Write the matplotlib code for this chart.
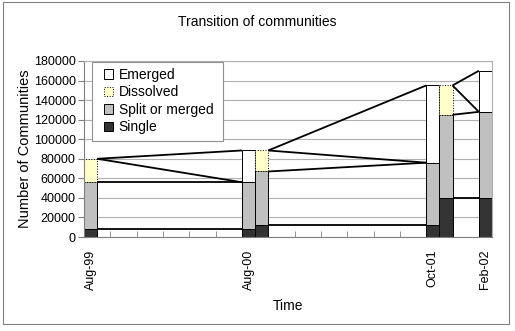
import matplotlib
matplotlib.use('Agg')
import matplotlib.pyplot as plt
from matplotlib.patches import Patch, Rectangle
import numpy as np

plt.rcParams['font.family'] = ['Liberation Sans', 'DejaVu Sans']

# one bar per month counted from Aug-99
months = [0, 12, 13, 26, 27, 30]
single = [8000, 8000, 12500, 12500, 40000, 40000]
split = [48000, 48000, 54500, 63500, 85000, 88000]
emerged = [0, 32500, 0, 79000, 0, 42000]
dissolved = [24000, 0, 21500, 0, 30000, 0]

tick_months = [0, 12, 26, 30]
tick_labels = ['Aug-99', 'Aug-00', 'Oct-01', 'Feb-02']

# bars joined by connector lines (from, to)
links = [(0, 1), (2, 3), (4, 5)]

months = np.array(months)
single = np.array(single)
split = np.array(split)
emerged = np.array(emerged)
dissolved = np.array(dissolved)

fig = plt.figure(figsize=(5.15, 3.31), dpi=100)
fig.patches.append(Rectangle((3/515, 7/331), 506/515, 322/331, transform=fig.transFigure,
                             fill=False, edgecolor='#808080', lw=0.8))
ax = fig.add_axes([84/515, 94/331, 408/515, 176/331])

ax.set_axisbelow(True)
ax.yaxis.grid(True, color='#b0b0b0', lw=0.8)

ax.bar(months, single, width=1, align='edge', color='#333333', edgecolor='black', lw=0.7, zorder=2)
ax.bar(months, split, bottom=single, width=1, align='edge', color='#c0c0c0', edgecolor='black', lw=0.7, zorder=2)
m = emerged > 0
ax.bar(months[m], emerged[m], bottom=(single + split)[m], width=1, align='edge',
       color='white', edgecolor='black', lw=0.7, zorder=2)
m = dissolved > 0
ax.bar(months[m], dissolved[m], bottom=(single + split)[m], width=1, align='edge',
       color='#ffffcc', edgecolor='black', lw=0.7, ls=':', zorder=2)

for a, b in links:
    x0, x1 = months[a] + 1, months[b]
    top_a = single[a] + split[a] + dissolved[a]
    mid_a = single[a] + split[a]
    top_b = single[b] + split[b] + emerged[b]
    mid_b = single[b] + split[b]
    for y0, y1 in [(top_a, top_b), (top_a, mid_b), (mid_a, mid_b), (single[a], single[b])]:
        ax.plot([x0, x1], [y0, y1], color='black', lw=1.3, zorder=3, solid_capstyle='butt')

ax.set_xlim(0, 31)
ax.set_ylim(0, 180000)
ax.set_yticks(np.arange(0, 180001, 20000))
ax.tick_params(axis='y', labelsize=9, length=4, color='#808080', pad=2)

ax.set_xticks(np.array(tick_months) + 0.5)
ax.set_xticklabels(tick_labels, rotation=90, fontsize=9)
ax.set_xticks(np.arange(0, 31, 2), minor=True)
ax.tick_params(axis='x', which='major', length=0, pad=9)
ax.tick_params(axis='x', which='minor', direction='in', length=4, color='#808080')

for s in ['left', 'bottom']:
    ax.spines[s].set_color('#808080')
for s in ['top', 'right']:
    ax.spines[s].set_color('#b0b0b0')

ax.set_ylabel('Number of Communities', fontsize=10.5, labelpad=1)
ax.set_xlabel('Time', fontsize=10, labelpad=7)
fig.text(0.5, 1 - 22/331, 'Transition of communities', ha='center', va='center', fontsize=10)

ax.add_patch(Rectangle((8/408, 96/176), 131/408, 79/176, transform=ax.transAxes,
                       facecolor='white', edgecolor='#909090', lw=0.8, zorder=4))
handles = [Patch(facecolor='white', edgecolor='black', lw=0.7),
           Patch(facecolor='#ffffcc', edgecolor='black', lw=0.7, ls=':'),
           Patch(facecolor='#c0c0c0', edgecolor='black', lw=0.7),
           Patch(facecolor='#333333', edgecolor='black', lw=0.7)]
leg = ax.legend(handles, ['Emerged', 'Dissolved', 'Split or merged', 'Single'],
                loc='upper left', bbox_to_anchor=(13/408, 1.0), frameon=False,
                fontsize=10, borderpad=0, handlelength=0.65, handleheight=0.65,
                handletextpad=0.4, labelspacing=0.25)
leg.set_zorder(5)

fig.savefig('out.png', dpi=100)
